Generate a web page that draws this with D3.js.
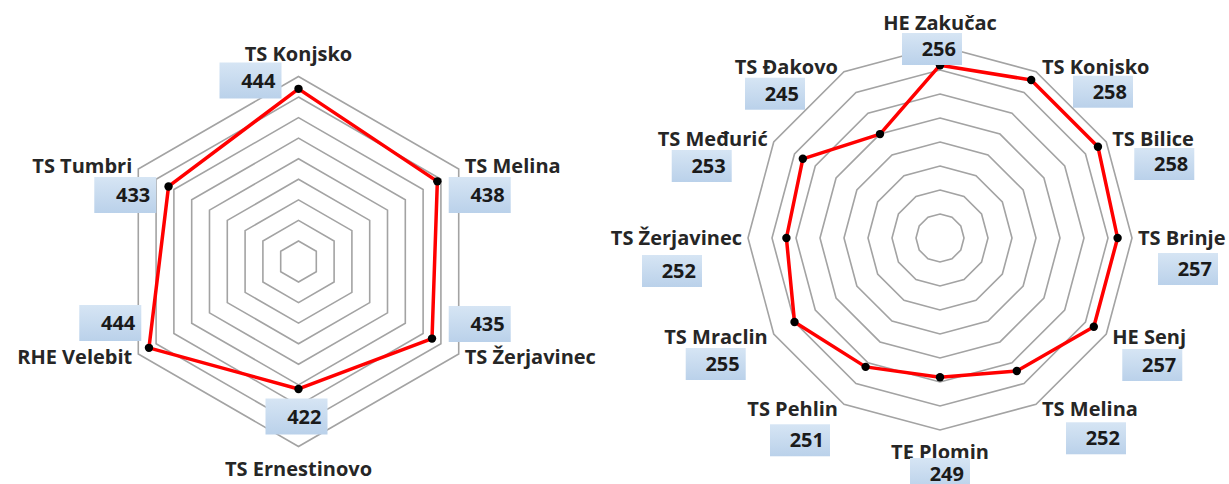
<!DOCTYPE html>
<html>
<head>
<meta charset="utf-8">
<script src="https://cdn.jsdelivr.net/npm/d3@7"></script>
<style>
  body { margin: 0; background: #fff; }
  svg text { font-family: "Open Sans", sans-serif; font-weight: 700; }
</style>
</head>
<body>
<div id="chart"></div>
<script>
// Left radar: categories clockwise from the top
var leftCategories = ["TS Konjsko", "TS Melina", "TS Žerjavinec", "TS Ernestinovo", "RHE Velebit", "TS Tumbri"];
var leftValues = [444, 438, 435, 422, 444, 433];
var leftMin = 360;
var leftTicks = [370, 380, 390, 400, 410, 420, 430, 440, 450];

// Right radar
var rightCategories = ["HE Zakučac", "TS Konjsko", "TS Bilice", "TS Brinje", "HE Senj", "TS Melina",
   "TE Plomin", "TS Pehlin", "TS Mraclin", "TS Žerjavinec", "TS Međurić", "TS Đakovo"];
var rightValues = [256, 258, 258, 257, 257, 252, 249, 251, 255, 252, 253, 245];
var rightMin = 220;
var rightTicks = [225, 230, 235, 240, 245, 250, 255, 260];

// where the value boxes sit, relative to the outer vertex of each axis (layout only)
var leftBoxOffset = [[-48, 4], [21, 26], [21, -30], [-2, -30], [-28, -31], [-13, 26]];
var rightBoxOffset = [[-8, 3], [67, 20], [58, 22], [56, 31], [46, 31], [60, 34],
   [0, 44], [-44, 36], [-58, 30], [-76, 33], [-72, 24], [-69, 22]];

var width = 1229, height = 484;

var svg = d3.select("#chart")
   .append("svg")
   .attr("width", width)
   .attr("height", height);

// soft blue fill for the value boxes
var grad = svg.append("defs").append("linearGradient")
   .attr("id", "boxFill")
   .attr("x1", 0).attr("y1", 0).attr("x2", 0).attr("y2", 1);
grad.append("stop").attr("offset", "0%").attr("stop-color", "#d6e5f4");
grad.append("stop").attr("offset", "100%").attr("stop-color", "#bad1ea");

function drawRadar(cfg) {
   var n = cfg.categories.length;
   var r = d3.scaleLinear()
      .domain([cfg.min, d3.max(cfg.ticks)])
      .range([0, cfg.radius]);
   var angle = function (i) { return i * 2 * Math.PI / n; };

   var g = svg.append("g")
      .attr("transform", `translate(${cfg.cx}, ${cfg.cy})`);

   var poly = d3.lineRadial()
      .angle(function (d, i) { return angle(i); })
      .radius(function (d) { return r(d); })
      .curve(d3.curveLinearClosed);

   // grid polygons
   g.selectAll(".ring")
      .data(cfg.ticks)
      .enter().append("path")
      .attr("class", "ring")
      .attr("d", function (t) { return poly(cfg.categories.map(function () { return t; })); })
      .style("fill", "none")
      .style("stroke", "#a3a3a3")
      .style("stroke-width", 1.6);

   // the series line
   g.append("path")
      .datum(cfg.values)
      .attr("d", poly)
      .style("fill", "none")
      .style("stroke", "#ff0000")
      .style("stroke-width", 3.5)
      .style("stroke-linejoin", "round");

   g.selectAll(".dot")
      .data(cfg.values)
      .enter().append("circle")
      .attr("class", "dot")
      .attr("cx", function (d, i) { return r(d) * Math.sin(angle(i)); })
      .attr("cy", function (d, i) { return -r(d) * Math.cos(angle(i)); })
      .attr("r", 4.2)
      .style("fill", "#000");

   var rMax = r(d3.max(cfg.ticks));

   // category names
   cfg.categories.forEach(function (name, i) {
      var s = Math.sin(angle(i)), c = Math.cos(angle(i));
      var vx = rMax * s, vy = -rMax * c;
      var t = g.append("text")
         .style("font-size", cfg.fontSize + "px")
         .style("fill", "#262626")
         .text(name);
      if (Math.abs(s) < 0.01) {
         t.attr("x", vx)
            .attr("y", c > 0 ? vy - 16 : vy + 29)
            .attr("text-anchor", "middle");
      } else {
         t.attr("x", vx + (s > 0 ? 6 : -6))
            .attr("y", vy + 7 - 6 * c)
            .attr("text-anchor", s > 0 ? "start" : "end");
      }
   });

   // value boxes
   cfg.values.forEach(function (v, i) {
      var s = Math.sin(angle(i)), c = Math.cos(angle(i));
      var bx = rMax * s + cfg.boxOffset[i][0];
      var by = -rMax * c + cfg.boxOffset[i][1];
      g.append("rect")
         .attr("x", bx - cfg.boxW / 2)
         .attr("y", by - cfg.boxH / 2)
         .attr("width", cfg.boxW)
         .attr("height", cfg.boxH)
         .style("fill", "url(#boxFill)");
      g.append("text")
         .attr("x", bx + cfg.boxW / 2 - 6)
         .attr("y", by + 7)
         .attr("text-anchor", "end")
         .style("font-size", cfg.fontSize + "px")
         .style("fill", "#1a1a1a")
         .text(v);
   });
}

drawRadar({
   cx: 298.5, cy: 261.5, radius: 185,
   categories: leftCategories, values: leftValues,
   min: leftMin, ticks: leftTicks,
   boxOffset: leftBoxOffset, boxW: 62, boxH: 36, fontSize: 20
});

drawRadar({
   cx: 940, cy: 238, radius: 192,
   categories: rightCategories, values: rightValues,
   min: rightMin, ticks: rightTicks,
   boxOffset: rightBoxOffset, boxW: 60, boxH: 32, fontSize: 20
});
</script>
</body>
</html>
